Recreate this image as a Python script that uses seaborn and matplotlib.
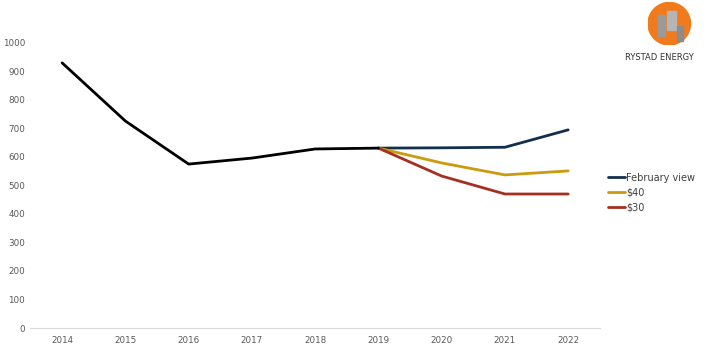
import matplotlib
matplotlib.use("Agg")
import matplotlib.pyplot as plt
import matplotlib.patches as mpatches
import seaborn as sns
import pandas as pd

years = [2014, 2015, 2016, 2017, 2018, 2019, 2020, 2021, 2022]
hist_years = [2014, 2015, 2016, 2017, 2018, 2019]
hist_values = [930, 726, 575, 596, 628, 631]
scen_years = [2019, 2020, 2021, 2022]
feb_view = [631, 632, 634, 695]
usd40 = [631, 579, 537, 551]
usd30 = [631, 533, 470, 470]
series_names = ["February view", "$40", "$30"]
colors = ["#132f4f", "#cc9a0e", "#a4301f"]
yticks = list(range(0, 1001, 100))

sns.set_theme(style="white")
plt.rcParams["font.family"] = ["Verdana", "DejaVu Sans"]

fig = plt.figure(figsize=(7.09, 3.46), dpi=100)
ax = fig.add_axes([0.043, 0.052, 0.803, 0.824])

scen = pd.DataFrame({
    "year": scen_years * 3,
    "value": feb_view + usd40 + usd30,
    "series": [series_names[0]] * 4 + [series_names[1]] * 4 + [series_names[2]] * 4,
})
hist = pd.DataFrame({"year": hist_years, "value": hist_values})

sns.lineplot(data=scen, x="year", y="value", hue="series", hue_order=series_names,
             palette=colors, linewidth=2.0, ax=ax, legend=True)
sns.lineplot(data=hist, x="year", y="value", color="black", linewidth=2.0, ax=ax, legend=False)

ax.set_xlim(2013.5, 2022.5)
ax.set_ylim(0, 1000)
ax.set_xticks(years)
ax.set_xticklabels([str(y) for y in years])
ax.set_yticks(yticks)
ax.set_xlabel("")
ax.set_ylabel("")
for s in ["top", "right", "left"]:
    ax.spines[s].set_visible(False)
ax.spines["bottom"].set_color("#d9d9d9")
ax.spines["bottom"].set_linewidth(0.8)
ax.tick_params(axis="both", length=0, labelsize=6.3, labelcolor="#595959", pad=6)
ax.tick_params(axis="y", pad=4)
for lbl in ax.get_yticklabels():
    lbl.set_horizontalalignment("right")

handles, labels = ax.get_legend_handles_labels()
ax.legend(handles, labels, loc="upper left", bbox_to_anchor=(0.845, 0.526),
          bbox_transform=fig.transFigure, frameon=False, fontsize=7,
          handlelength=1.75, handletextpad=0.1, labelspacing=0.5,
          labelcolor="#404040")

# logo
logo_ax = fig.add_axes([0.914, 0.87, 0.06, 0.123])
logo_ax.set_xlim(-1, 1)
logo_ax.set_ylim(-1, 1)
logo_ax.set_aspect("equal")
logo_ax.axis("off")
logo_ax.add_patch(mpatches.Circle((0, 0), 1, color="#f07a1c"))
logo_ax.add_patch(mpatches.Rectangle((-0.55, -0.6), 0.35, 1.0, color="#9a9a9a"))
logo_ax.add_patch(mpatches.Rectangle((-0.1, -0.3), 0.4, 0.9, color="#b5b5b5"))
logo_ax.add_patch(mpatches.Rectangle((0.35, -0.8), 0.3, 0.7, color="#8c8c8c"))
fig.text(0.93, 0.835, "RYSTAD ENERGY", fontsize=6, color="#333333", ha="center", va="center")

fig.savefig("out.png", dpi=100)
